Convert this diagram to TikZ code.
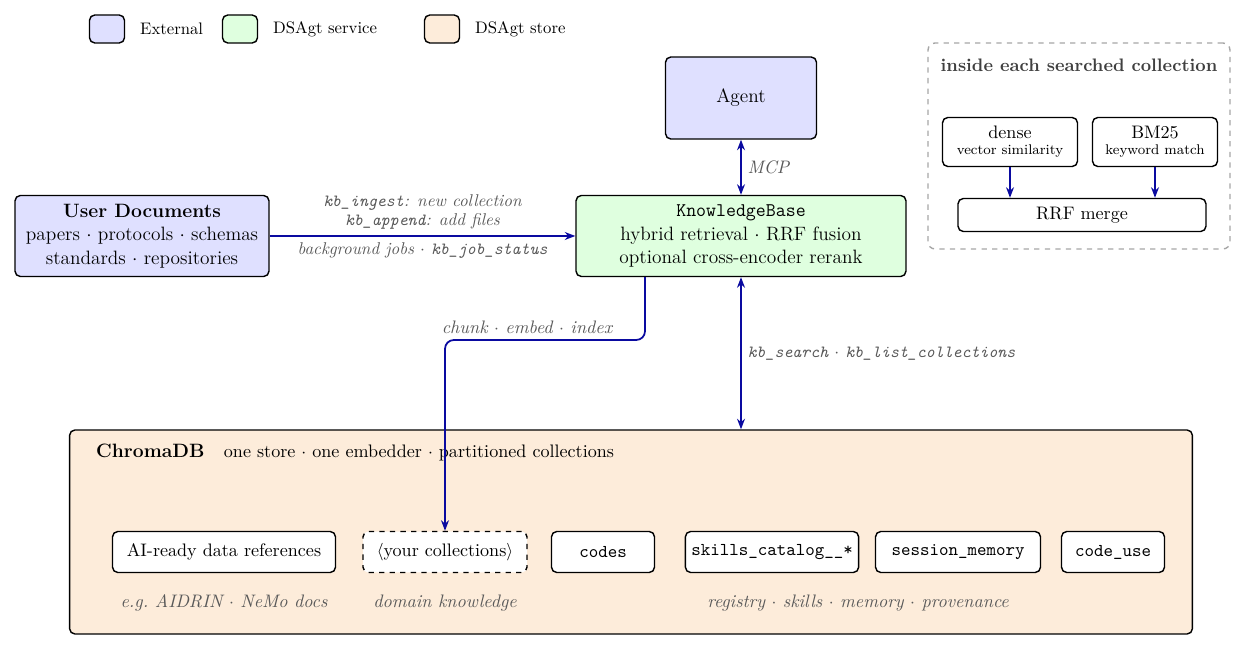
\documentclass[tikz,border=0pt]{standalone}
\usetikzlibrary{arrows.meta}
\definecolor{extfill}{HTML}{DFE0FF}
\definecolor{svcfill}{HTML}{DFFFDF}
\definecolor{storefill}{HTML}{FDECDA}
\definecolor{flow}{HTML}{0A0AA0}
\newcommand{\mainsize}{\fontsize{11}{13.5}\selectfont}
\newcommand{\notesize}{\fontsize{10.3}{12}\selectfont}
\newcommand{\tinysize}{\fontsize{8}{9}\selectfont}
\tikzset{
  box/.style={draw, thick, rounded corners=3pt, align=center, font=\mainsize},
  inbox/.style={box, fill=white, minimum height=0.82cm},
  flowarrow/.style={-{Stealth[length=6pt]}, flow, semithick, line width=1pt},
  twoway/.style={{Stealth[length=6pt]}-{Stealth[length=6pt]}, flow, line width=1pt},
  note/.style={font=\notesize\itshape, text=black!65},
}
\begin{document}
\begin{tikzpicture}[x=0.02cm, y=-0.02cm]
  \path[use as bounding box] (0,0) rectangle (1247,651);
  % legend
  \node[box, fill=extfill, minimum width=0.7cm, minimum height=0.56cm] (lext) at (107,29) {};
  \node[anchor=west, font=\fontsize{9.5}{11}\selectfont] (lextt) at (134,29) {External};
  \node[box, fill=svcfill, minimum width=0.7cm, minimum height=0.56cm] (lsvc) at (240,29) {};
  \node[anchor=west, font=\fontsize{9.5}{11}\selectfont] (lsvct) at (267,29) {DSAgt service};
  \node[box, fill=storefill, minimum width=0.7cm, minimum height=0.56cm] (lsto) at (442,29) {};
  \node[anchor=west, font=\fontsize{9.5}{11}\selectfont] (lstot) at (469,29) {DSAgt store};
  % main nodes
  \node[box, fill=extfill, minimum width=3.02cm, minimum height=1.64cm] (agent) at (741,98) {Agent};
  \node[box, fill=svcfill, minimum width=6.6cm, minimum height=1.62cm] (kb) at (741,236)
    {\texttt{KnowledgeBase}\\hybrid retrieval $\cdot$ RRF fusion\\optional cross-encoder rerank};
  \node[box, fill=extfill, minimum width=5.08cm, minimum height=1.62cm] (docs) at (142,236)
    {\textbf{User Documents}\\papers $\cdot$ protocols $\cdot$ schemas\\standards $\cdot$ repositories};
  % collection panel
  \node[draw=black!35, thick, dashed, rounded corners=4pt, minimum width=6.04cm, minimum height=4.12cm] (panel) at (1079,146) {};
  \node[font=\notesize\bfseries, text=black!75] (paneltitle) at (1079,65) {inside each searched collection};
  \node[inbox, minimum width=2.7cm, minimum height=0.98cm, font=\notesize] (dense) at (1010,142)
    {dense\\[-3pt]{\tinysize vector similarity}};
  \node[inbox, minimum width=2.5cm, minimum height=0.98cm, font=\notesize] (bm) at (1155,142)
    {BM25\\[-3pt]{\tinysize keyword match}};
  \node[inbox, minimum width=4.96cm, minimum height=0.66cm, font=\notesize] (rrf) at (1082,215) {RRF merge};
  \draw[flowarrow] (dense.south) -- (dense.south |- rrf.north);
  \draw[flowarrow] (bm.south) -- (bm.south |- rrf.north);
  % store
  \node[box, fill=storefill, minimum width=22.46cm, minimum height=4.08cm] (chroma) at (631,532) {};
  \node[anchor=west, font=\mainsize] (chromat) at (90,453) {\textbf{ChromaDB}\quad{\notesize one store $\cdot$ one embedder $\cdot$ partitioned collections}};
  \node[inbox, minimum width=4.46cm, font=\notesize] (airef) at (224,552) {AI-ready data references};
  \node[inbox, dashed, minimum width=3.28cm, font=\notesize] (yours) at (445,552) {$\langle$your collections$\rangle$};
  \node[inbox, minimum width=2.06cm, font=\notesize] (codes) at (603,552) {\texttt{codes}};
  \node[inbox, minimum width=3.44cm, font=\notesize] (skills) at (772,552) {\texttt{skills\_catalog\_\_*}};
  \node[inbox, minimum width=3.3cm, font=\notesize] (session) at (958,552) {\texttt{session\_memory}};
  \node[inbox, minimum width=2.06cm, font=\notesize] (codeuse) at (1113,552) {\texttt{code\_use}};
  \node[note] (n1) at (224,603) {e.g.\ AIDRIN $\cdot$ NeMo docs};
  \node[note] (n2) at (445,603) {domain knowledge};
  \node[note] (n3) at (858,603) {registry $\cdot$ skills $\cdot$ memory $\cdot$ provenance};
  % connectors
  \draw[twoway] (agent) -- (kb) node[midway, right, note] {MCP};
  \draw[flowarrow] (docs) -- (kb)
    node[midway, above, note, align=center, font=\fontsize{9.7}{11}\selectfont\itshape] {\texttt{kb\_ingest}: new collection\\\texttt{kb\_append}: add files}
    node[midway, below, note, font=\fontsize{9.7}{11}\selectfont\itshape] {background jobs $\cdot$ \texttt{kb\_job\_status}};
  \draw[flowarrow, rounded corners=5pt] (kb.south -| 645,0) -- (645,340) -- (445,340) -- (yours.north);
  \node[note] (chunk) at (527,327) {chunk $\cdot$ embed $\cdot$ index};
  \draw[twoway] (kb.south) -- (kb.south |- chroma.north)
    node[midway, right, note, font=\fontsize{9.7}{11}\selectfont\itshape] {\texttt{kb\_search} $\cdot$ \texttt{kb\_list\_collections}};
\end{tikzpicture}
\end{document}
